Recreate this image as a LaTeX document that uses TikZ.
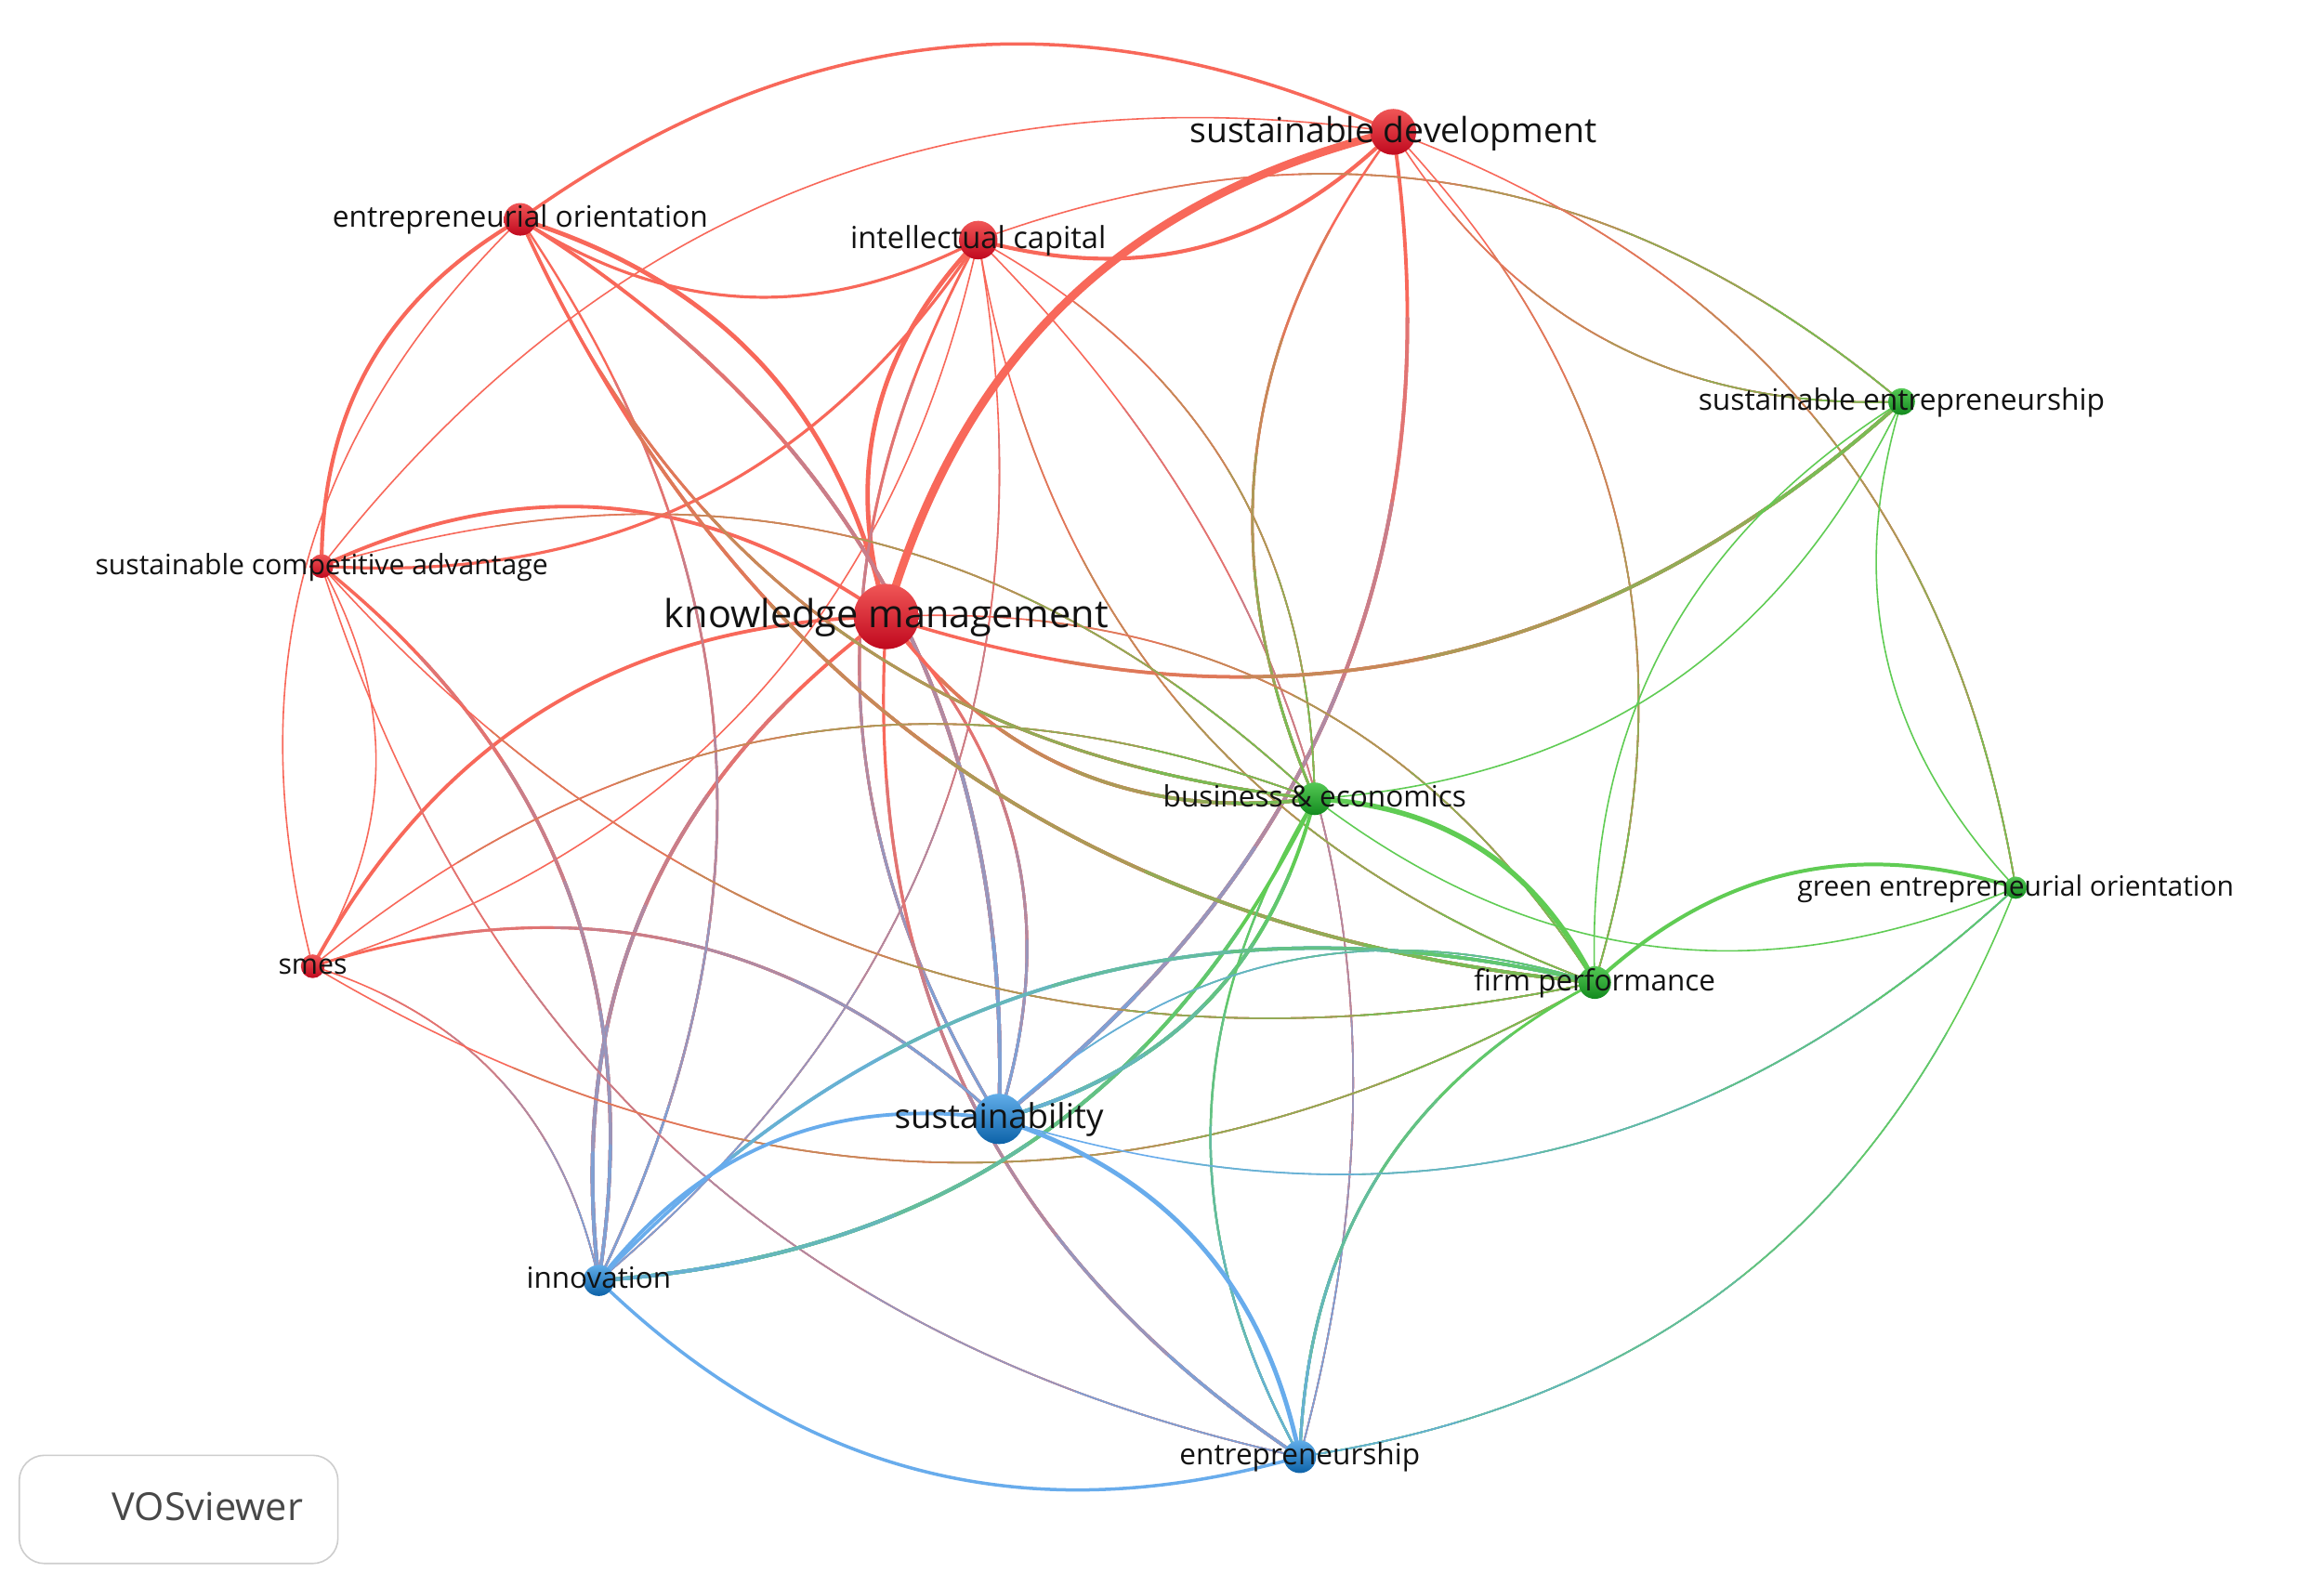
\documentclass[tikz,border=0pt]{standalone}
\usepackage{fontspec}
\setmainfont{Open Sans}
\definecolor{cR}{RGB}{248,104,90}
\definecolor{cG}{RGB}{96,204,84}
\definecolor{cB}{RGB}{104,172,236}
\definecolor{txt}{RGB}{18,18,18}
\definecolor{nRt}{RGB}{240,86,86}
\definecolor{nRb}{RGB}{192,8,30}
\definecolor{nGt}{RGB}{84,200,84}
\definecolor{nGb}{RGB}{18,138,30}
\definecolor{nBt}{RGB}{96,172,232}
\definecolor{nBb}{RGB}{12,98,168}
\definecolor{boxgray}{RGB}{205,205,205}
\definecolor{vgray}{RGB}{72,72,72}
\newcommand{\fsz}[1]{\fontsize{#1}{#1}\selectfont}
\makeatletter
\newcommand{\edgelength}[2]{%
  \pgfpointdiff{\pgfpointanchor{#1}{center}}{\pgfpointanchor{#2}{center}}%
  \edef\myex{\the\pgf@x}\edef\myey{\the\pgf@y}%
  \pgfmathveclen{\myex}{\myey}%
  \pgfmathsetmacro{\elen}{1.053*\pgfmathresult}%
}
\makeatother
% plain edge: from, to, colour, width, bend
\newcommand{\sedge}[5]{%
  \draw[draw=#3, line width=#4pt] (#1) to[#5] (#2);%
}
% gradient edge: from, to, colour at from, colour at to, width, bend
\newcommand{\gedge}[6]{%
  \edgelength{#1}{#2}%
  \draw[draw=#3, line width=#5pt] (#1) to[#6] (#2);%
  \foreach \k in {1,2,3,4,5}{%
    \pgfmathsetmacro{\ph}{10000-\k*\elen/6}%
    \pgfmathtruncatemacro{\pc}{round(\k*100/6)}%
    \draw[draw=#4!\pc!#3, line width=#5pt, dash pattern=on 5000pt off 5000pt, dash phase=\ph pt] (#1) to[#6] (#2);%
  }%
}
\begin{document}
\begin{tikzpicture}[x=1pt,y=-1pt,line cap=round,
  bL/.style={bend left=30},
  bR/.style={bend right=30},
  vnode/.style={circle, inner sep=0pt, minimum size=#1pt, draw=none},
  rn/.style={vnode=#1, top color=nRt, bottom color=nRb},
  gn/.style={vnode=#1, top color=nGt, bottom color=nGb},
  bn/.style={vnode=#1, top color=nBt, bottom color=nBb},
  lbl/.style={text=txt, inner sep=0pt, anchor=base},
]
\useasboundingbox[fill=white] (0,0) rectangle (1568,1069.6);

\coordinate (SD) at (940,89);
\coordinate (EO) at (351,148);
\coordinate (IC) at (660,162);
\coordinate (SCA) at (217,382);
\coordinate (KM) at (598,416);
\coordinate (SM) at (211,652);
\coordinate (SE) at (1283,271);
\coordinate (BE) at (887,539);
\coordinate (GEO) at (1360,599);
\coordinate (FP) at (1076,663);
\coordinate (SU) at (674,755);
\coordinate (IN) at (404,864);
\coordinate (EN) at (877,983);

% red - red
\sedge{EO}{SD}{cR}{2.2}{bL}
\sedge{EO}{IC}{cR}{2}{bR}
\sedge{IC}{SD}{cR}{2.6}{bR}
\sedge{EO}{SCA}{cR}{2.6}{bR}
\sedge{EO}{SM}{cR}{1}{bR}
\sedge{SCA}{SM}{cR}{1}{bL}
\sedge{SCA}{SD}{cR}{1}{bL}
\sedge{EO}{KM}{cR}{3}{bL}
\sedge{IC}{KM}{cR}{3}{bR}
\sedge{IC}{SM}{cR}{1}{bL}
\sedge{IC}{SCA}{cR}{2}{bL}
\sedge{KM}{SCA}{cR}{2.4}{bR}
\sedge{KM}{SM}{cR}{2.4}{bR}
% red - blue
\gedge{IC}{SU}{cR}{cB}{1.8}{bR}
\gedge{IC}{EN}{cR}{cB}{1}{bL}
\gedge{IC}{IN}{cR}{cB}{1}{bL}
\gedge{SD}{SU}{cR}{cB}{2.4}{bL}
\gedge{KM}{SU}{cR}{cB}{1.8}{bL}
\gedge{KM}{EN}{cR}{cB}{2}{bR}
\gedge{KM}{IN}{cR}{cB}{2.4}{bR}
\gedge{SM}{SU}{cR}{cB}{1.8}{bL}
\gedge{EO}{SU}{cR}{cB}{2.4}{bL}
\gedge{EO}{IN}{cR}{cB}{1.5}{bL}
\gedge{SCA}{IN}{cR}{cB}{2.2}{bL}
\gedge{SCA}{EN}{cR}{cB}{1}{bR}
\gedge{SM}{IN}{cR}{cB}{1}{bL}
% red - green
\gedge{IC}{SE}{cR}{cG}{1}{bL}
\gedge{IC}{BE}{cR}{cG}{1}{bL}
\gedge{IC}{FP}{cR}{cG}{1}{bR}
\gedge{SD}{BE}{cR}{cG}{1.6}{bR}
\gedge{SD}{FP}{cR}{cG}{1}{bL}
\gedge{SD}{SE}{cR}{cG}{1}{bR}
\gedge{SD}{GEO}{cR}{cG}{1}{bL}
\gedge{KM}{SE}{cR}{cG}{2.2}{bR}
\gedge{KM}{BE}{cR}{cG}{2.2}{bR}
\gedge{KM}{FP}{cR}{cG}{1}{bL}
\gedge{EO}{BE}{cR}{cG}{1.8}{bR}
\gedge{EO}{FP}{cR}{cG}{2.2}{bR}
\gedge{SCA}{BE}{cR}{cG}{1}{bL}
\gedge{SCA}{FP}{cR}{cG}{1}{bR}
\gedge{SM}{BE}{cR}{cG}{1}{bL}
\gedge{SM}{FP}{cR}{cG}{1}{bR}
% green - green
\sedge{BE}{FP}{cG}{3.5}{bL}
\sedge{SE}{BE}{cG}{1}{bL}
\sedge{SE}{FP}{cG}{1}{bR}
\sedge{SE}{GEO}{cG}{1}{bR}
\sedge{FP}{GEO}{cG}{2.5}{bL}
\sedge{BE}{GEO}{cG}{1}{bR}
% green - blue
\gedge{BE}{IN}{cG}{cB}{2.4}{bL}
\gedge{BE}{SU}{cG}{cB}{2.4}{bL}
\gedge{BE}{EN}{cG}{cB}{1.4}{bR}
\gedge{FP}{EN}{cG}{cB}{1.8}{bR}
\gedge{IN}{FP}{cB}{cG}{2.2}{bL}
\gedge{SU}{FP}{cB}{cG}{1}{bL}
\gedge{SU}{GEO}{cB}{cG}{1}{bR}
\gedge{GEO}{EN}{cG}{cB}{1}{bL}
% blue - blue
\sedge{IN}{SU}{cB}{2.4}{bL}
\sedge{SU}{EN}{cB}{3}{bL}
\sedge{IN}{EN}{cB}{2.2}{bR}
% strongest link
\sedge{KM}{SD}{cR}{5.5}{bL}

% nodes
\node[rn=31] (SDc) at (SD) {};
\node[rn=22] (EOc) at (EO) {};
\node[rn=26] (ICc) at (IC) {};
\node[rn=16] (SCAc) at (SCA) {};
\node[rn=44] (KMc) at (KM) {};
\node[rn=16] (SMc) at (SM) {};
\node[gn=18] (SEc) at (SE) {};
\node[gn=22] (BEc) at (BE) {};
\node[gn=15] (GEOc) at (GEO) {};
\node[gn=22] (FPc) at (FP) {};
\node[bn=34] (SUc) at (SU) {};
\node[bn=21] (INc) at (IN) {};
\node[bn=22] (ENc) at (EN) {};

% labels
\node[lbl,font=\fsz{23.4}] (SDt) at ([yshift=-7pt]SD) {sustainable development};
\node[lbl,font=\fsz{19.9}] (EOt) at ([yshift=-5.5pt]EO) {entrepreneurial orientation};
\node[lbl,font=\fsz{20.5}] (ICt) at ([yshift=-6pt]IC) {intellectual capital};
\node[lbl,font=\fsz{18.9}] (SCAt) at ([yshift=-5.5pt]SCA) {sustainable competitive advantage};
\node[lbl,font=\fsz{26}] (KMt) at ([yshift=-7.5pt]KM) {knowledge management};
\node[lbl,font=\fsz{19}] (SMt) at ([yshift=-5.5pt]SM) {smes};
\node[lbl,font=\fsz{19.9}] (SEt) at ([yshift=-5.5pt]SE) {sustainable entrepreneurship};
\node[lbl,font=\fsz{19.8}] (BEt) at ([yshift=-5.5pt]BE) {business \& economics};
\node[lbl,font=\fsz{18.8}] (GEOt) at ([yshift=-5.5pt]GEO) {green entrepreneurial orientation};
\node[lbl,font=\fsz{19.7}] (FPt) at ([yshift=-5.5pt]FP) {firm performance};
\node[lbl,font=\fsz{23}] (SUt) at ([yshift=-6.5pt]SU) {sustainability};
\node[lbl,font=\fsz{19.7}] (INt) at ([yshift=-5.5pt]IN) {innovation};
\node[lbl,font=\fsz{19.8}] (ENt) at ([yshift=-5.5pt]EN) {entrepreneurship};

% VOSviewer badge
\node[draw=boxgray, line width=1pt, rounded corners=17pt, minimum width=215pt, minimum height=73pt, inner sep=0pt] (vbox) at (120.5,1018.5) {};
\node[lbl, text=vgray, font=\fsz{26}] (vtxt) at (140,1026) {VOSviewer};
\end{tikzpicture}
\end{document}
